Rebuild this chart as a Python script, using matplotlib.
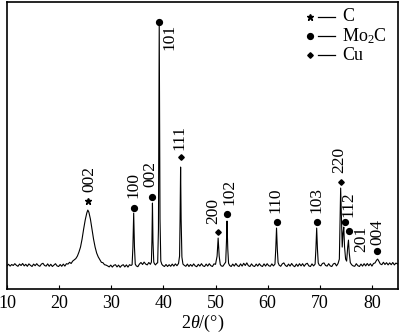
import matplotlib
matplotlib.use("Agg")
import matplotlib.pyplot as plt

plt.rcParams['font.family'] = ['Liberation Serif', 'DejaVu Serif']
plt.rcParams['mathtext.fontset'] = 'custom'
plt.rcParams['mathtext.rm'] = 'Liberation Serif'
plt.rcParams['mathtext.it'] = 'Liberation Serif:italic'

# XRD trace (2theta in degrees, intensity in a.u.)
two_theta = [
    10.0, 10.3, 10.6, 10.9, 11.2, 11.5, 11.8, 12.1, 12.4, 12.7, 13.0, 13.3, 13.6, 13.9,
    14.2, 14.5, 14.8, 15.1, 15.4, 15.7, 16.0, 16.3, 16.6, 16.9, 17.2, 17.5, 17.8, 18.1,
    18.4, 18.7, 19.0, 19.3, 19.6, 19.9, 20.2, 20.5, 20.8, 21.1, 21.4,
    21.7, 22.0, 22.3, 22.6, 22.9, 23.2, 23.5, 23.8, 24.1, 24.4, 24.7, 25.0, 25.3, 25.5,
    25.7, 26.0, 26.3, 26.6, 26.9, 27.2, 27.5, 27.8, 28.1, 28.4, 28.7, 29.0,
    29.3, 29.6, 29.9, 30.2, 30.5, 30.8, 31.1, 31.4, 31.7, 32.0, 32.3, 32.6, 32.9, 33.2,
    33.5, 33.8,
    34.0, 34.15, 34.3, 34.45, 34.6, 34.8,
    35.1, 35.4, 35.7, 36.0, 36.3, 36.6, 36.9, 37.2, 37.5,
    37.7, 37.8, 37.9, 38.0, 38.15, 38.3, 38.5, 38.7, 38.9,
    39.05, 39.2, 39.35, 39.5, 39.7, 39.9,
    40.2, 40.5, 40.8, 41.1, 41.4, 41.7, 42.0, 42.3, 42.6, 42.9,
    43.1, 43.2, 43.3, 43.4, 43.55, 43.75, 44.0,
    44.3, 44.6, 44.9, 45.2, 45.5, 45.8, 46.1, 46.4, 46.7, 47.0, 47.3, 47.6, 47.9, 48.2,
    48.5, 48.8, 49.1, 49.4, 49.7, 50.0,
    50.3, 50.5, 50.7, 50.9, 51.1, 51.4, 51.7, 51.95,
    52.1, 52.2, 52.35, 52.5, 52.7,
    53.0, 53.3, 53.6, 53.9, 54.2, 54.5, 54.8, 55.1, 55.4, 55.7, 56.0, 56.3, 56.6, 56.9,
    57.2, 57.5, 57.8, 58.1, 58.4, 58.7, 59.0, 59.3, 59.6, 59.9, 60.2, 60.5, 60.8, 61.1,
    61.4,
    61.55, 61.7, 61.85, 62.0, 62.2,
    62.5, 62.8, 63.1, 63.4, 63.7, 64.0, 64.3, 64.6, 64.9, 65.2, 65.5, 65.8, 66.1, 66.4,
    66.7, 67.0, 67.3, 67.6, 67.9, 68.2, 68.5, 68.8, 69.1,
    69.25, 69.4, 69.55, 69.7, 69.9,
    70.2, 70.5, 70.8, 71.1, 71.4, 71.7, 72.0, 72.3, 72.6, 72.9, 73.2, 73.5, 73.75,
    73.9, 74.0, 74.15, 74.3,
    74.45, 74.6, 74.75, 74.95, 75.15,
    75.35, 75.5, 75.65, 75.85, 76.1,
    76.4, 76.7, 77.0, 77.3, 77.6, 77.9, 78.2, 78.5, 78.8, 79.1, 79.4, 79.7, 80.0, 80.3,
    80.6,
    80.9, 81.1, 81.3, 81.6, 81.9, 82.2, 82.5, 82.8, 83.1, 83.4, 83.7, 84.0, 84.3, 84.6,
    85.0,
]
intensity = [
    232, 248, 230, 246, 236, 254, 238, 228, 250, 236, 256, 232, 248, 228,
    252, 238, 226, 250, 234, 254, 236, 228, 250, 258, 236, 230, 252, 228,
    248, 226, 240, 254, 232, 226, 246, 228, 250, 230, 254,
    250, 268, 256, 280, 292, 305, 330, 370, 420, 500, 600, 690, 760, 790,
    770, 700, 600, 500, 420, 360, 322, 296, 268, 264, 244, 240,
    232, 222, 240, 220, 238, 244, 222, 240, 218, 236, 244, 222, 242, 220,
    244, 236,
    245, 420, 760, 420, 250, 232,
    224, 250, 266, 246, 270, 250, 242, 266, 248,
    270, 480, 860, 480, 270, 252, 242, 258, 262,
    600, 2640, 700, 280, 248, 236,
    226, 246, 226, 244, 228, 250, 230, 252, 234, 256,
    330, 700, 1220, 700, 320, 250, 238,
    228, 250, 226, 246, 228, 252, 232, 224, 248, 230, 254, 232, 226, 250,
    230, 254, 234, 226, 252, 248,
    330, 510, 330, 248, 232, 228, 250, 270,
    480, 680, 400, 258, 236,
    226, 250, 230, 256, 234, 226, 252, 230, 258, 236, 262, 234, 226, 252,
    232, 226, 250, 230, 254, 234, 226, 252, 230, 254, 234, 228, 252, 232,
    250,
    400, 610, 400, 265, 240,
    228, 252, 262, 236, 226, 250, 230, 256, 234, 224, 250, 228, 254, 232,
    254, 228, 250, 258, 232, 226, 252, 232, 250,
    400, 610, 400, 262, 240,
    232, 256, 262, 236, 230, 254, 232, 226, 252, 258, 232, 256, 300,
    700, 1010, 700, 420,
    560, 620, 420, 300, 280,
    420, 490, 360, 265, 244,
    232, 228, 254, 234, 226, 250, 230, 254, 232, 256, 234, 254, 230, 256,
    262,
    290, 300, 282, 252, 244, 268, 246, 264, 242, 262, 244, 266, 242, 260,
    250,
]

# phase markers: symbol position, phase and (hkl) label
marker_theta = [25.6, 34.3, 37.85, 39.2, 43.3, 50.5, 52.2, 61.7, 69.4, 74.0, 74.8, 75.6, 81.0]
marker_int = [880, 810, 920, 2670, 1320, 570, 750, 670, 670, 1070, 670, 580, 380]
marker_phase = ["C", "Mo2C", "Mo2C", "Mo2C", "Cu", "Cu", "Mo2C", "Mo2C", "Mo2C", "Cu",
                "Mo2C", "Mo2C", "Mo2C"]
hkl_labels = ["002", "100", "002", "101", "111", "200", "102", "110", "103", "220",
              "112", "201", "004"]

legend_phases = ["C", "Mo2C", "Cu"]
legend_texts = ["C", "Mo$_2$C", "Cu"]

# layout (label offsets in pixels from the marker, positive = up)
label_offsets = [(1, 9), (0, 10), (-2, 10), (10, -28), (-1, 7), (-5, 8), (2, 9), (-1, 9),
                 (0, 9), (-1, 9), (4, 5), (12, -21), (0, 6)]
styles = {
    "C": dict(marker="*", ms=4.8),
    "Mo2C": dict(marker="o", ms=4.2),
    "Cu": dict(marker="D", ms=2.8),
}

fig = plt.figure(figsize=(4.0, 3.35), dpi=100)
ax = fig.add_axes([0.0175, 0.137, 0.9775, 0.857])

ax.plot(two_theta, intensity, color="black", lw=0.8)

for x, y, phase, lab, (dx, dy) in zip(marker_theta, marker_int, marker_phase,
                                      hkl_labels, label_offsets):
    ax.plot(x, y, ls="none", color="black", **styles[phase])
    ax.annotate(lab, (x, y), xytext=(dx * 0.72, dy * 0.72), textcoords="offset points",
                rotation=90, ha="center", va="bottom", fontsize=12.5)

# legend drawn by hand: symbol, dash, text
for i, (phase, txt) in enumerate(zip(legend_phases, legend_texts)):
    yy = 0.948 - i * 0.067
    ax.plot(0.775, yy, ls="none", color="black", transform=ax.transAxes, **styles[phase])
    ax.plot([0.795, 0.839], [yy, yy], color="black", lw=0.9, transform=ax.transAxes)
    ax.text(0.857, yy, txt, transform=ax.transAxes, ha="left", va="center", fontsize=13)

ax.set_xlim(10, 85)
ax.set_ylim(0, 2870)
ax.set_xticks(range(10, 90, 10))
ax.set_yticks([])
ax.tick_params(axis="x", direction="in", length=3, width=0.8, labelsize=13, pad=4)
for s in ax.spines.values():
    s.set_linewidth(1.2)
ax.set_xlabel(r"$\mathit{2\theta}$/(°)", fontsize=13, labelpad=1)

fig.savefig("out.png", dpi=100)
